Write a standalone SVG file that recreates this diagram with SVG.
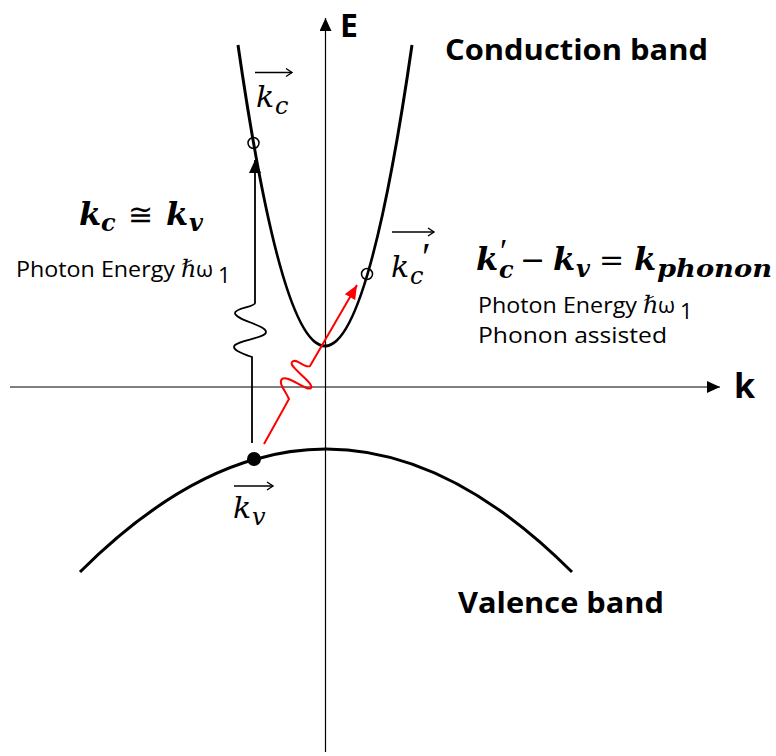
<svg xmlns="http://www.w3.org/2000/svg" width="776" height="756" viewBox="0 0 776 756">
<style>
.ax{stroke:#000;stroke-width:1.2;fill:none}
.band{stroke:#000;stroke-width:3;fill:none}
.lbl{font-family:"Open Sans","Noto Sans","Liberation Sans",sans-serif;font-weight:bold;fill:#000}
.txt{font-family:"Open Sans","Noto Sans","Liberation Sans",sans-serif;font-size:22px;fill:#000}
.mi{font-family:"DejaVu Serif","Liberation Serif",serif;font-style:italic;fill:#000}
.mb{font-family:"DejaVu Serif","Liberation Serif",serif;font-style:italic;font-weight:bold;fill:#000}
.op{font-family:"DejaVu Serif","Liberation Serif",serif;fill:#000}
.pr{font-family:"Liberation Serif","DejaVu Serif",serif;font-style:normal;font-weight:normal}
.vec{stroke:#000;stroke-width:1.4;fill:none}
.ph{stroke:#000;stroke-width:1.8;fill:none}
.phr{stroke:#ff0000;stroke-width:2;fill:none}
</style>
<defs>
<marker id="ah" markerUnits="userSpaceOnUse" markerWidth="14" markerHeight="12" refX="13" refY="6" orient="auto"><path d="M0,0 L13,6 L0,12 z" fill="#000"/></marker>
<marker id="ahr" markerUnits="userSpaceOnUse" markerWidth="15" markerHeight="12" refX="14" refY="6" orient="auto"><path d="M0,0 L14,6 L0,12 z" fill="#ff0000"/></marker>
</defs>
<rect width="776" height="756" fill="#fff"/>
<g id="axes">
<line x1="325.5" y1="752" x2="325.5" y2="18" class="ax" marker-end="url(#ah)"/>
<line x1="10" y1="387" x2="720" y2="387" class="ax" marker-end="url(#ah)"/>
<text x="340" y="37" class="lbl" font-size="32">E</text>
<text x="734" y="398" class="lbl" font-size="34">k</text>
</g>
<g id="conduction-band">
<path d="M238,45 Q325,647 412,45" class="band"/>
<text x="445" y="60" class="lbl" font-size="29" textLength="263" lengthAdjust="spacingAndGlyphs">Conduction band</text>
</g>
<g id="valence-band">
<path d="M80,572 Q326,326 572,572" class="band"/>
<text x="458" y="613" class="lbl" font-size="29" textLength="206" lengthAdjust="spacingAndGlyphs">Valence band</text>
</g>
<g id="state-kc">
<circle cx="253.5" cy="143" r="5.5" fill="none" stroke="#000" stroke-width="1.5"/>
<line x1="255" y1="72.5" x2="292" y2="72.5" class="vec"/>
<path d="M286,68.5 L292,72.5 L286,76.5" class="vec"/>
<text x="256" y="107" class="mi" font-size="30">k</text>
<text x="275" y="114" class="mi" font-size="24">c</text>
</g>
<g id="state-kc-prime">
<circle cx="367" cy="274" r="5.5" fill="none" stroke="#000" stroke-width="1.5"/>
<line x1="392" y1="232" x2="434" y2="232" class="vec"/>
<path d="M428,228 L434,232 L428,236" class="vec"/>
<text x="391" y="277" class="mi" font-size="30">k</text>
<text class="mi" font-size="24"><tspan x="410" y="284">c</tspan><tspan x="422" y="270" class="pr" font-size="40">′</tspan></text>
</g>
<g id="state-kv">
<circle cx="254" cy="459" r="7" fill="#000"/>
<line x1="234" y1="486" x2="273" y2="486" class="vec"/>
<path d="M267,482 L273,486 L267,490" class="vec"/>
<text x="233" y="518" class="mi" font-size="30">k</text>
<text x="252" y="525" class="mi" font-size="24">v</text>
</g>
<g id="direct-label">
<text x="79" y="225" class="mb" font-size="32">k</text>
<text x="101" y="231" class="mb" font-size="24">c</text>
<text x="128" y="225" class="op" font-size="30">≅</text>
<text x="166" y="225" class="mb" font-size="32">k</text>
<text x="189" y="231" class="mb" font-size="24">v</text>
<text x="16" y="277" class="txt" textLength="159" lengthAdjust="spacingAndGlyphs">Photon Energy</text>
<text x="181" y="277" class="mi" font-size="24">ℏ</text>
<text x="196" y="277" class="txt" font-size="27">ω</text>
<text x="218" y="283" class="txt" font-size="15">1</text>
</g>
<g id="indirect-label">
<text class="mb" font-size="32"><tspan x="476" y="270">k</tspan><tspan x="500" y="262" class="pr" font-size="34">′</tspan><tspan x="499" y="278" font-size="24">c</tspan></text>
<text x="520" y="270" class="op" font-size="30">−</text>
<text x="553" y="270" class="mb" font-size="32">k</text>
<text x="576" y="277" class="mb" font-size="24">v</text>
<text x="599" y="270" class="op" font-size="30">=</text>
<text x="634" y="270" class="mb" font-size="32">k</text>
<text x="657" y="277" class="mb" font-size="25" textLength="115" lengthAdjust="spacingAndGlyphs">phonon</text>
<text x="478" y="313" class="txt" textLength="159" lengthAdjust="spacingAndGlyphs">Photon Energy</text>
<text x="643" y="313" class="mi" font-size="24">ℏ</text>
<text x="658" y="313" class="txt" font-size="27">ω</text>
<text x="680" y="319" class="txt" font-size="15">1</text>
<text x="478" y="343" class="txt" textLength="189" lengthAdjust="spacingAndGlyphs">Phonon assisted</text>
</g>
<g id="connectors">
<path d="M252,443 L252,357 C240,353 231,349 235,345 C240,340 266,338 266,332 C266,325 235,320 235,313 C235,308 255,307 255,303 L255,160" class="ph" marker-end="url(#ah)"/>
<path d="M264,444 L289,399 C285,390 278,383 282,379 C287,374 307,392 311,388 C315,383 288,367 292,362 C296,357 305,369 310,366 L357,285" class="phr" marker-end="url(#ahr)"/>
</g>
</svg>
